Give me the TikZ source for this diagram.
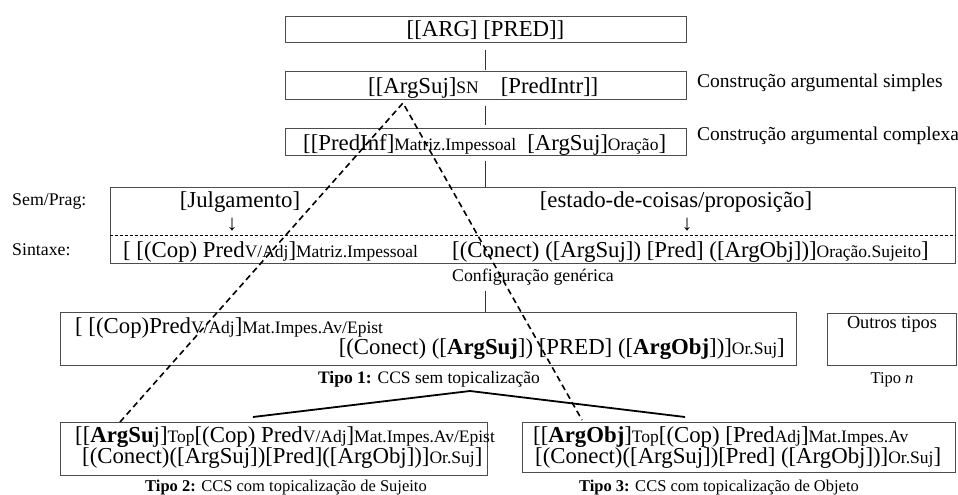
\documentclass[tikz,border=0pt]{standalone}
\usepackage{fontspec}
\setmainfont{Liberation Serif}
\newcommand\lw[1]{{\fontsize{17.5}{17.5}\selectfont #1}}
\begin{document}
\begin{tikzpicture}[x=1pt,y=-1pt,
  box/.style={draw=black!70,line width=1pt,rectangle,inner sep=0pt},
  txt/.style={inner sep=0pt,font=\fontsize{22.8}{22.8}\selectfont},
  lbl/.style={inner sep=0pt,font=\fontsize{17.8}{17.8}\selectfont},
  tlbl/.style={inner sep=0pt,font=\fontsize{16.5}{16.5}\selectfont},
  arr/.style={inner sep=0pt,anchor=base,font=\fontsize{22}{22}\selectfont},
  conn/.style={line width=1pt,black!80},
  dsh/.style={line width=1.6pt,dash pattern=on 6pt off 4pt},
  tree/.style={line width=1.8pt}]
\useasboundingbox (0,0) rectangle (958,495);
% boxes
\node[box,minimum width=401pt,minimum height=26pt] (b1) at (485.5,30) {};
\node[box,minimum width=401pt,minimum height=27pt] (b2) at (485.5,85.5) {};
\node[box,minimum width=401pt,minimum height=27pt] (b3) at (485.5,141.5) {};
\node[box,minimum width=845pt,minimum height=76pt] (big) at (532.5,225) {};
\node[box,minimum width=736pt,minimum height=53pt] (t1) at (428,338.5) {};
\node[box,minimum width=129pt,minimum height=52pt] (tn) at (892,339) {};
\node[box,minimum width=427pt,minimum height=53pt] (t2) at (273.5,448.5) {};
\node[box,minimum width=433pt,minimum height=50pt] (t3) at (738.5,447) {};
% dashed separator in big box
\draw[line width=0.9pt,dash pattern=on 3pt off 2pt] (big.west |- 0,235) coordinate (sepL) -- (big.east |- 0,235) coordinate (sepR);
% texts
\node[txt,anchor=base] (x1) at (485.5,37) {[[ARG] [PRED]]};
\node[txt,anchor=base west] (x2) at (368,93) {[[ArgSuj]\lw{SN}\hspace{22pt}[PredIntr]]};
\node[txt,anchor=base west] (x3) at (303,150) {[[PredInf]\lw{Matriz.Impessoal}\hspace{11pt}[ArgSuj]\lw{Oração}]};
\node[lbl,font=\fontsize{19.5}{19.5}\selectfont,anchor=base west] (c1) at (697,88) {Construção argumental simples};
\node[lbl,font=\fontsize{19.5}{19.5}\selectfont,anchor=base west] (c2) at (697,140) {Construção argumental complexa};
\node[lbl,anchor=base west] (sp) at (12,205) {Sem/Prag:};
\node[lbl,anchor=base west] (sx) at (12,255) {Sintaxe:};
\node[txt,anchor=base] (ju) at (240,207) {[Julgamento]};
\node[txt,anchor=base] (es) at (676,207) {[estado-de-coisas/proposição]};
\node[arr] (a1) at (232,230) {↓};
\node[arr] (a2) at (687,230) {↓};
\node[txt,anchor=base west] (s1) at (123,257) {[ [(Cop) Pred\lw{V/Adj}]\lw{Matriz.Impessoal}};
\node[txt,anchor=base west] (s2) at (452,257) {[(Conect) ([ArgSuj]) [Pred] ([ArgObj])]\lw{Oração.Sujeito}]};
\node[lbl,anchor=base] (cg) at (533,281) {Configuração genérica};
\node[txt,anchor=base west] (p1) at (75,333) {[ [(Cop)Pred\lw{V/Adj}]\lw{Mat.Impes.Av/Epist}};
\node[txt,anchor=base east] (p2) at (785,354) {[(Conect) ([\textbf{ArgSuj}]) [PRED] ([\textbf{ArgObj}])]\lw{Or.Suj}]};
\node[tlbl,font=\fontsize{17.5}{17.5}\selectfont,anchor=base] (l1) at (429,383) {\textbf{Tipo 1:} CCS sem topicalização};
\node[lbl,font=\fontsize{18.3}{18.3}\selectfont,anchor=base] (on) at (892,328) {Outros tipos};
\node[lbl,font=\fontsize{16.5}{16.5}\selectfont,anchor=base] (ln) at (892,383) {Tipo \textit{n}};
\node[txt,anchor=base west] (q1) at (75,442) {[[\textbf{ArgSu}j]\lw{Top}[(Cop) Pred\lw{V/Adj}]\lw{Mat.Impes.Av/Epist}};
\node[txt,anchor=base west] (q2) at (82,463) {[(Conect)([ArgSuj])[Pred]([ArgObj])]\lw{Or.Suj}]};
\node[tlbl,anchor=base] (l2) at (286,491) {\textbf{Tipo 2:} CCS com topicalização de Sujeito};
\node[txt,anchor=base west] (r1) at (533,442) {[[\textbf{ArgObj}]\lw{Top}[(Cop) [Pred\lw{Adj}]\lw{Mat.Impes.Av}};
\node[txt,anchor=base west] (r2) at (535,463) {[(Conect)([ArgSuj])[Pred] ([ArgObj])]\lw{Or.Suj}]};
\node[tlbl,anchor=base] (l3) at (719,491) {\textbf{Tipo 3:} CCS com topicalização de Objeto};
% vertical connectors
\draw[conn,shorten <=7pt,shorten >=1pt] (b1) -- (b2);
\draw[conn,shorten <=6pt,shorten >=3pt] (b2) -- (b3);
\draw[conn,shorten <=5pt] (b3.south) -- (b3.south |- big.north);
\draw[conn,shorten <=27pt] (b3.south |- big.south) -- (b3.south |- t1.north);
% tree
\coordinate (tapex) at (470,391);
\coordinate (tl) at (253,417);
\coordinate (tr) at (685,417);
\draw[tree] (tl) -- (tapex) -- (tr);
% dashed triangle
\coordinate (dapex) at (403,103);
\coordinate (dl) at (120,422);
\coordinate (dr) at (582,420);
\draw[dsh] (dl) -- (dapex) -- (dr);
\end{tikzpicture}
\end{document}
